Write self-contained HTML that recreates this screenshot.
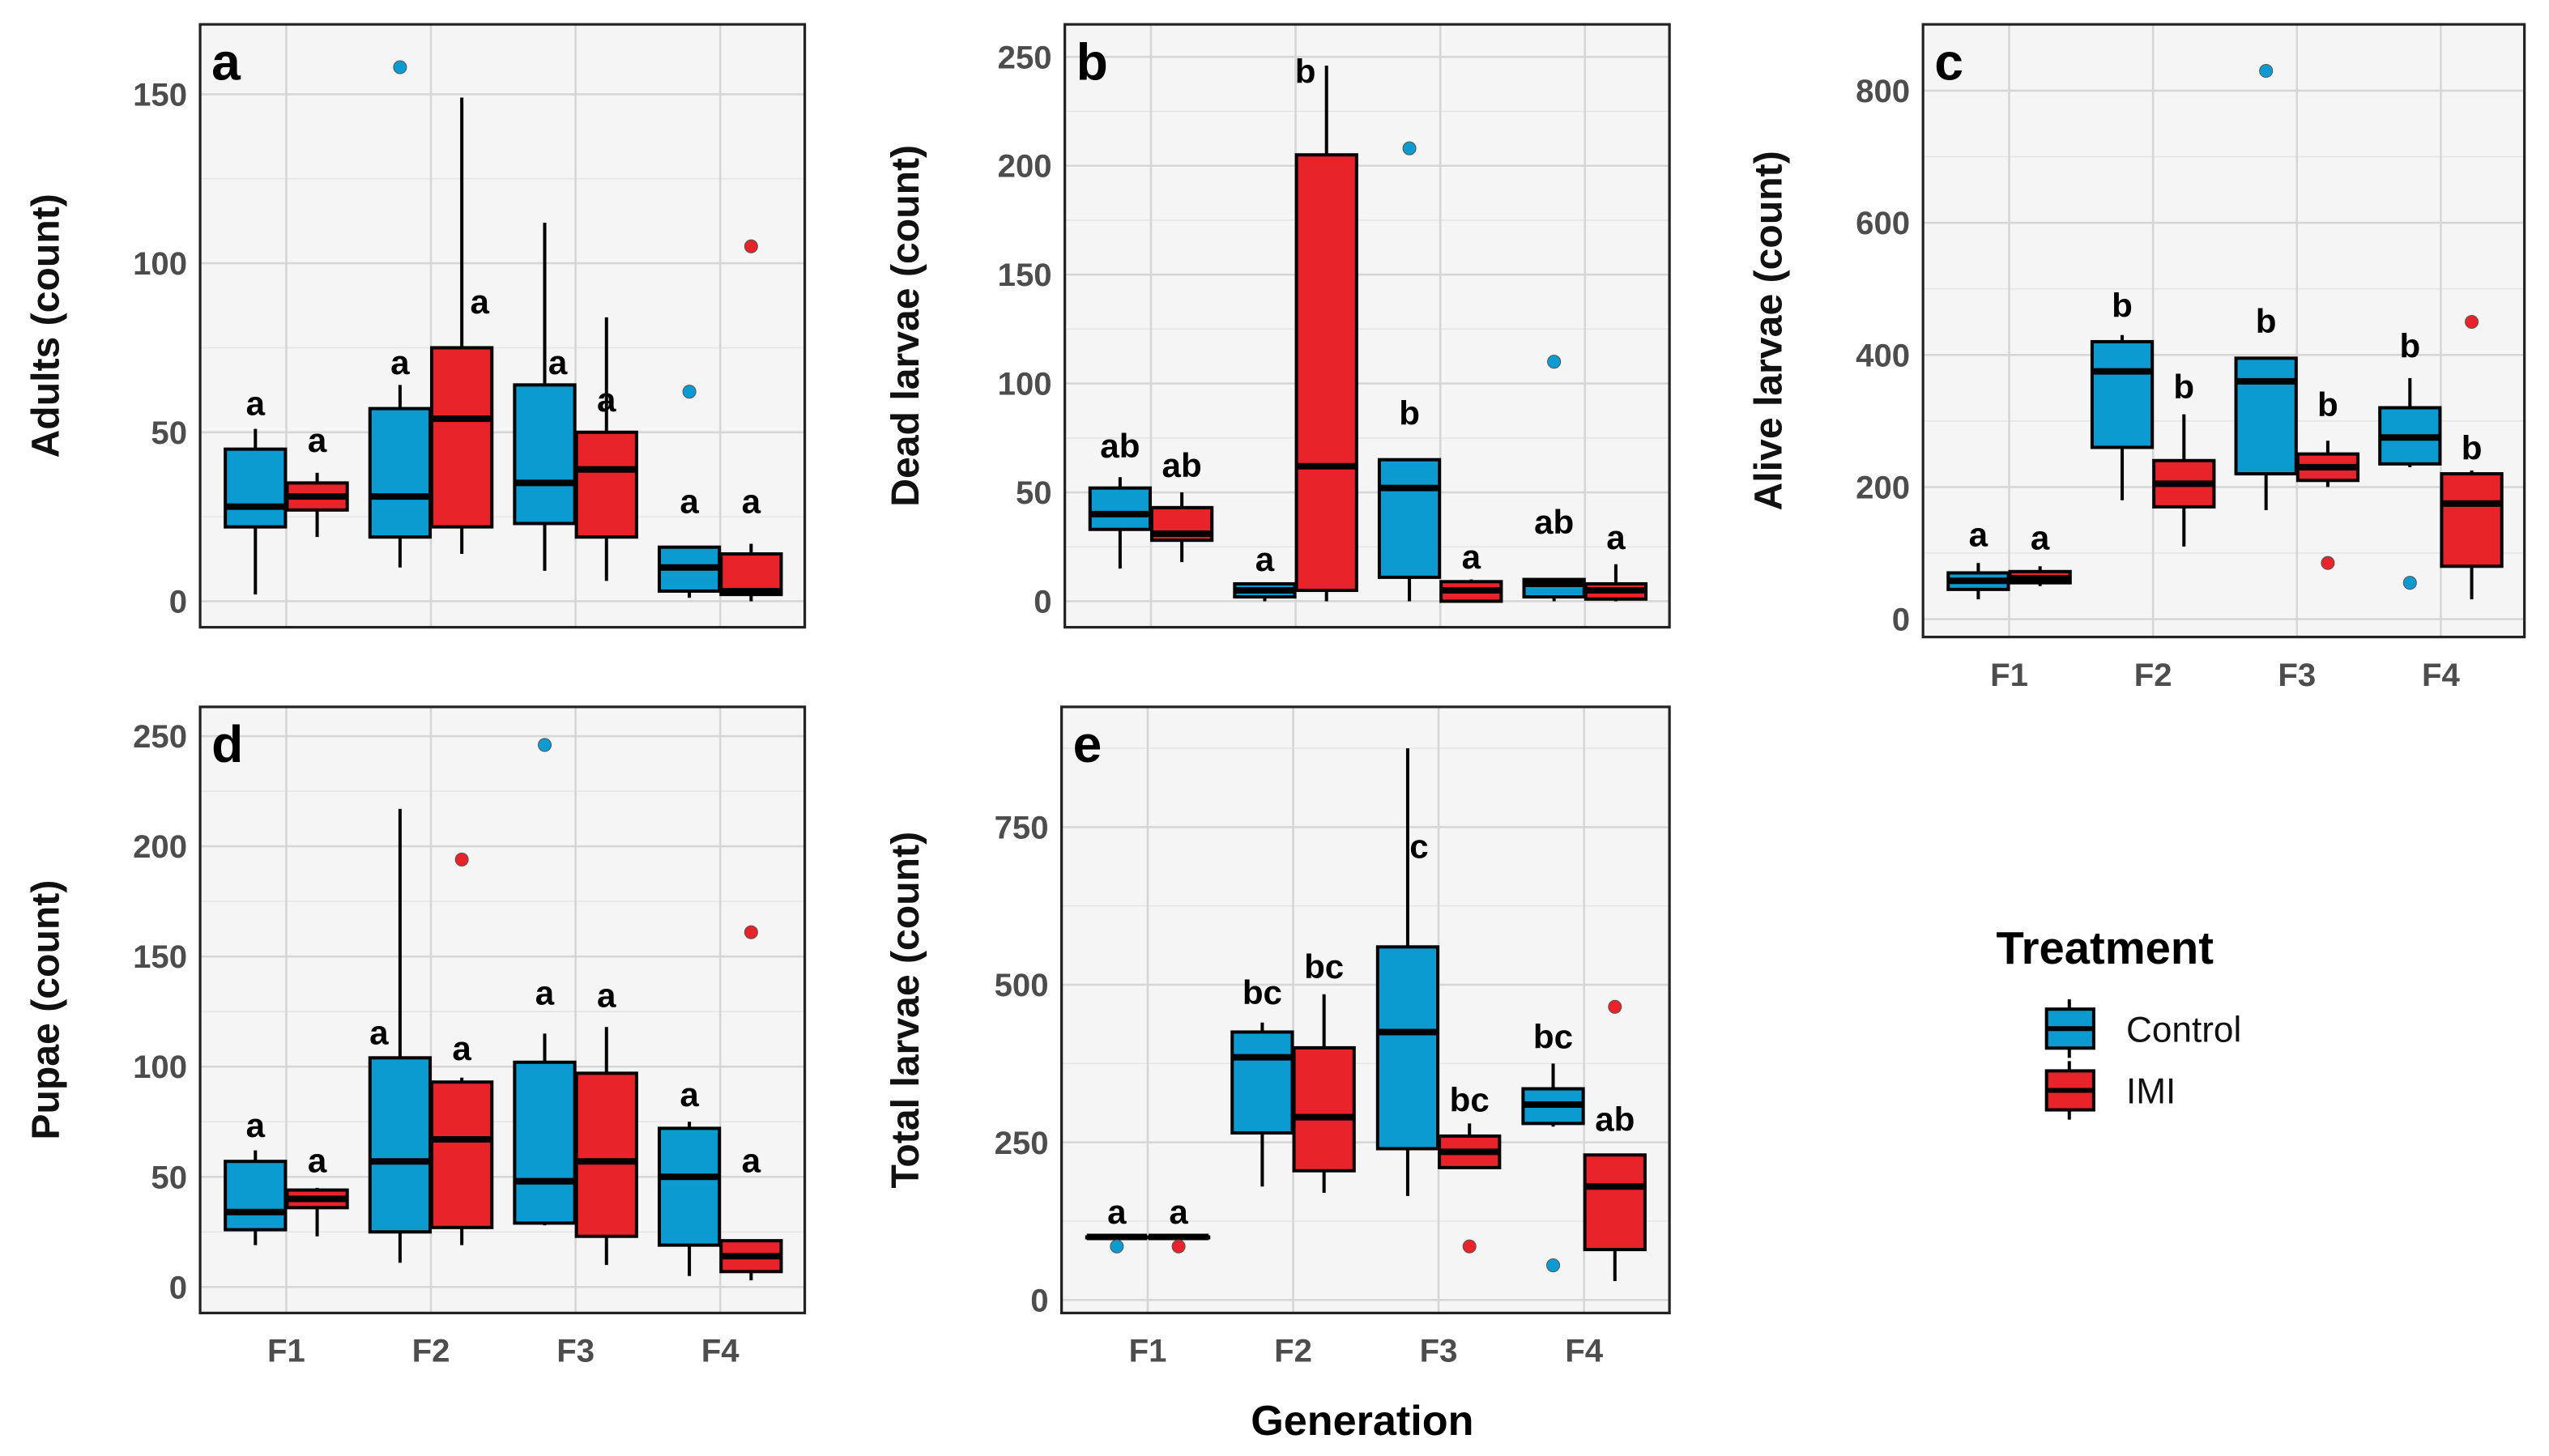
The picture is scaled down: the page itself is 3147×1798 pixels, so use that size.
<!DOCTYPE html>
<html><head><meta charset="utf-8">
<style>
html,body{margin:0;padding:0;background:#fff;}
svg{display:block;font-family:"Liberation Sans",sans-serif;}
</style></head>
<body>
<svg id="fig" width="3147" height="1798" viewBox="0 0 1568 896" xmlns="http://www.w3.org/2000/svg"></svg>
<script>
// Data: [lowWhisker, q1, median, q3, highWhisker]
const categories = ["F1","F2","F3","F4"];
const adultsControl = [[2,22,28,45,51],[10,19,31,57,64],[9,23,35,64,112],[1,3,10,16,16]];
const adultsIMI = [[19,27,31,35,38],[14,22,54,75,149],[6,19,39,50,84],[0,2,3,14,17]];
const adultsOutC = [[],[158],[],[62]];
const adultsOutI = [[],[],[],[105]];
const adultsLetC = ["a","a","a","a"];
const adultsLetI = ["a","a","a","a"];
const adultsLetPosC = [59,71,71,30];
const adultsLetPosI = [48,89,60,30];
const adultsTicks = [0,50,100,150];

const deadControl = [[15,33,40,52,57],[0,2,5,8,8],[0,11,52,65,65],[0,2,8,10,10]];
const deadIMI = [[18,28,31,43,50],[0,5,62,205,246],[0,0,5,9,10],[0,1,5,8,17]];
const deadOutC = [[],[],[208],[110]];
const deadOutI = [[],[],[],[]];
const deadLetC = ["ab","a","b","ab"];
const deadLetI = ["ab","b","a","a"];
const deadLetPosC = [72,20,87,37];
const deadLetPosI = [63,244,21,30];
const deadTicks = [0,50,100,150,200,250];

const aliveControl = [[30,45,58,70,85],[180,260,375,420,430],[165,220,360,395,395],[230,235,275,320,365]];
const aliveIMI = [[50,55,62,72,80],[110,170,205,240,310],[200,210,230,250,270],[30,80,175,220,225]];
const aliveOutC = [[],[],[830],[55]];
const aliveOutI = [[],[],[85],[450]];
const aliveLetC = ["a","b","b","b"];
const aliveLetI = ["a","b","b","b"];
const aliveLetPosC = [130,477,453,416];
const aliveLetPosI = [125,354,327,261];
const aliveTicks = [0,200,400,600,800];

const pupaeControl = [[19,26,34,57,62],[11,25,57,104,217],[28,29,48,102,115],[5,19,50,72,75]];
const pupaeIMI = [[23,36,40,44,45],[19,27,67,93,95],[10,23,57,97,118],[3,7,14,21,21]];
const pupaeOutC = [[],[],[246],[]];
const pupaeOutI = [[],[194],[],[161]];
const pupaeLetC = ["a","a","a","a"];
const pupaeLetI = ["a","a","a","a"];
const pupaeLetPosC = [74,116,134,88];
const pupaeLetPosI = [58,109,133,58];
const pupaeTicks = [0,50,100,150,200,250];

const totalControl = [[100,100,100,100,100],[180,265,385,425,440],[165,240,425,560,875],[275,280,310,335,375]];
const totalIMI = [[100,100,100,100,100],[170,205,290,400,485],[210,210,235,260,280],[30,80,180,230,230]];
const totalOutC = [[85],[],[],[55]];
const totalOutI = [[85],[],[85],[465]];
const totalLetC = ["a","bc","c","bc"];
const totalLetI = ["a","bc","bc","ab"];
const totalLetPosC = [142,490,722,420];
const totalLetPosI = [142,531,320,289];
const totalTicks = [0,250,500,750];

const NS = "http://www.w3.org/2000/svg";
const svg = document.getElementById("fig");
const BLUE = "#0b9bd0", RED = "#e8242a";
function mk(tag, attrs, parent){
  const e = document.createElementNS(NS, tag);
  for (const k in attrs) e.setAttribute(k, attrs[k]);
  (parent||svg).appendChild(e);
  return e;
}

const panels = [
  {id:"a", title:"Adults (count)", x:123,y:15,w:372,h:371, y0:370, k:104/50, ticks:adultsTicks, C:adultsControl, I:adultsIMI, oC:adultsOutC, oI:adultsOutI, lC:adultsLetC, lI:adultsLetI, pC:adultsLetPosC, pI:adultsLetPosI, nC:[0,0,8,0], nI:[0,11,0,0], xl:false, tx:28},
  {id:"b", title:"Dead larvae (count)", x:655,y:15,w:372,h:371, y0:370, k:67/50, ticks:deadTicks, C:deadControl, I:deadIMI, oC:deadOutC, oI:deadOutI, lC:deadLetC, lI:deadLetI, pC:deadLetPosC, pI:deadLetPosI, nC:[0,0,0,0], nI:[0,-13,0,0], xl:false, tx:557},
  {id:"c", title:"Alive larvae (count)", x:1183,y:15,w:370,h:377, y0:381, k:81.3/200, ticks:aliveTicks, C:aliveControl, I:aliveIMI, oC:aliveOutC, oI:aliveOutI, lC:aliveLetC, lI:aliveLetI, pC:aliveLetPosC, pI:aliveLetPosI, nC:[0,0,0,0], nI:[0,0,0,0], xl:true, tx:1088},
  {id:"d", title:"Pupae (count)", x:123,y:435,w:372,h:373, y0:792, k:67.8/50, ticks:pupaeTicks, C:pupaeControl, I:pupaeIMI, oC:pupaeOutC, oI:pupaeOutI, lC:pupaeLetC, lI:pupaeLetI, pC:pupaeLetPosC, pI:pupaeLetPosI, nC:[0,-13,0,0], nI:[0,0,0,0], xl:true, tx:28},
  {id:"e", title:"Total larvae (count)", x:653,y:435,w:374,h:373, y0:800, k:97/250, ticks:totalTicks, C:totalControl, I:totalIMI, oC:totalOutC, oI:totalOutI, lC:totalLetC, lI:totalLetI, pC:totalLetPosC, pI:totalLetPosI, nC:[0,0,7,0], nI:[0,0,0,0], xl:true, tx:557}
];

panels.forEach(p => {
  const g = mk("g", {});
  
  
  const Y = v => p.y0 - v * p.k;
  const X = i => p.x + 53 + i * 89 * (p.w / 372);
  const bg = mk("rect", {x:p.x, y:p.y, width:p.w, height:p.h, fill:"#f5f5f5"}, g);
  
  
  const step = p.ticks[1] - p.ticks[0];
  for (let t = p.ticks[0] - step/2; t <= p.ticks[p.ticks.length-1] + step; t += step) {
    const yy = Y(t);
    if (yy > p.y && yy < p.y + p.h) mk("line", {x1:p.x, x2:p.x+p.w, y1:yy, y2:yy, stroke:"#e6e6e6", "stroke-width":0.8}, g);
  }
  p.ticks.forEach(t => {
    const yy = Y(t);
    const gl = mk("line", {x1:p.x, x2:p.x+p.w, y1:yy, y2:yy, stroke:"#d6d6d6", "stroke-width":1.3}, g);
    
    
    const tl = mk("text", {x:p.x-8, y:yy+7, "text-anchor":"end", "font-size":20, "font-weight":"bold", fill:"#4d4d4d"}, g);
    tl.textContent = t;
    
    
  });
  categories.forEach((c, i) => {
    const xx = X(i);
    const vl = mk("line", {x1:xx, x2:xx, y1:p.y, y2:p.y+p.h, stroke:"#d6d6d6", "stroke-width":1.3}, g);
    
    
    if (p.xl) {
      const xt = mk("text", {x:xx, y:p.y+p.h+30, "text-anchor":"middle", "font-size":20, "font-weight":"bold", fill:"#4d4d4d"}, g);
      xt.textContent = c;
      
      
    }
  });
  const bw = 37;
  [[p.C, p.oC, p.lC, p.pC, p.nC, BLUE, -19, "control"], [p.I, p.oI, p.lI, p.pI, p.nI, RED, 19, "imi"]].forEach(s => {
    const [data, outs, lets, lpos, nud, col, off, nm] = s;
    data.forEach((d, i) => {
      const cx = X(i) + off;
      const bg2 = mk("g", {}, g);
      
      
      mk("line", {x1:cx, x2:cx, y1:Y(d[0]), y2:Y(d[4]), stroke:"#000", "stroke-width":2}, bg2);
      const top = Y(d[3]), bot = Y(d[1]);
      mk("rect", {x:cx-bw/2, y:top, width:bw, height:Math.max(bot-top,0.5), fill:col, stroke:"#000", "stroke-width":2}, bg2);
      mk("line", {x1:cx-bw/2, x2:cx+bw/2, y1:Y(d[2]), y2:Y(d[2]), stroke:"#000", "stroke-width":4}, bg2);
      outs[i].forEach(o => {
        const pt = mk("circle", {cx:cx, cy:Y(o), r:4, fill:col, stroke:"#555", "stroke-width":0.5}, g);
        
        
      });
      const lt = mk("text", {x:cx + nud[i], y:Y(lpos[i]) + 8, "text-anchor":"middle", "font-size":21, "font-weight":"bold", fill:"#000"}, g);
      lt.textContent = lets[i];
      
      
    });
  });
  const br = mk("rect", {x:p.x, y:p.y, width:p.w, height:p.h, fill:"none", stroke:"#222", "stroke-width":1.6}, g);
  
  
  const pl = mk("text", {x:p.x+7, y:p.y+34, "font-size":32, "font-weight":"bold", fill:"#000"}, g);
  pl.textContent = p.id;
  
  
  const cy = p.y + p.h/2;
  const at = mk("text", {x:p.tx, y:cy, transform:"rotate(-90 " + p.tx + " " + cy + ")", "text-anchor":"middle", "font-size":24, "font-weight":"bold", fill:"#111", dy:8}, g);
  at.textContent = p.title;
  
  
});

const xt = mk("text", {x:838, y:883, "text-anchor":"middle", "font-size":26, "font-weight":"bold", fill:"#000"});
xt.textContent = "Generation";



const lg = mk("g", {});


const lt = mk("text", {x:1228, y:593, "font-size":28, "font-weight":"bold", fill:"#000"}, lg);
lt.textContent = "Treatment";


[["Control", BLUE, 633], ["IMI", RED, 671]].forEach(e => {
  const eg = mk("g", {}, lg);
  
  
  mk("line", {x1:1273, x2:1273, y1:e[2]-18, y2:e[2]+18, stroke:"#000", "stroke-width":2}, eg);
  mk("rect", {x:1259, y:e[2]-12, width:29, height:24, fill:e[1], stroke:"#000", "stroke-width":2}, eg);
  mk("line", {x1:1259, x2:1288, y1:e[2], y2:e[2], stroke:"#000", "stroke-width":3}, eg);
  const t = mk("text", {x:1308, y:e[2]+8, "font-size":22, fill:"#111"}, eg);
  t.textContent = e[0];
});
</script>
</body></html>
